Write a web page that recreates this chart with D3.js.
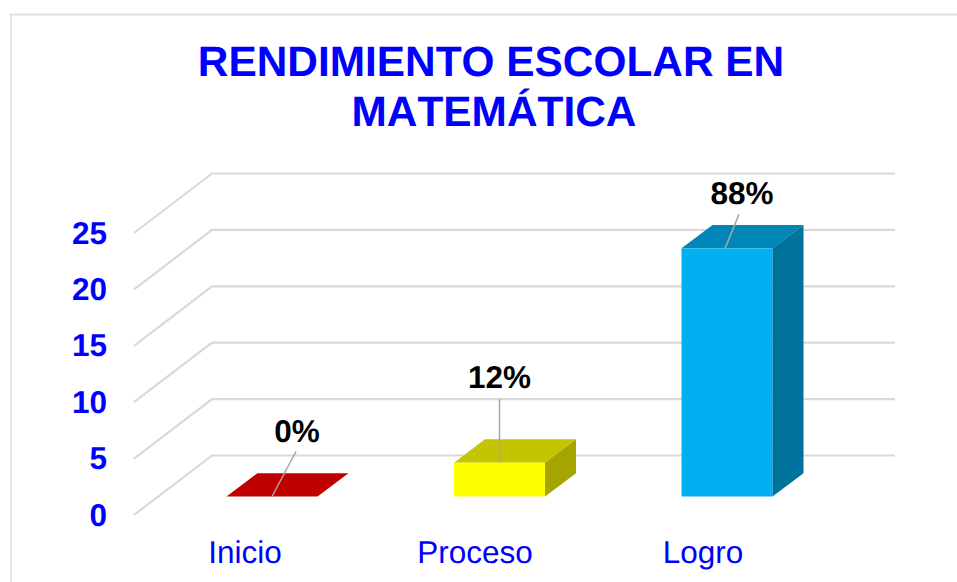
<!DOCTYPE html>
<html>
<head>
<meta charset="utf-8">
<script src="https://d3js.org/d3.v7.min.js"></script>
<style>
  html, body { margin: 0; padding: 0; background: #fff; }
  svg { display: block; }
  text { font-family: "Liberation Sans", Arial, sans-serif; text-rendering: geometricPrecision; font-kerning: none; }
</style>
</head>
<body>
<div id="chart"></div>
<script>
var categories = ["Inicio", "Proceso", "Logro"];
var values = [0, 3, 22];
var percentLabels = ["0%", "12%", "88%"];
var frontColors = ["#c00000", "#ffff00", "#00b0f0"];
var topColors = ["#c00000", "#c4c400", "#0086b6"];
var sideColors = ["#c00000", "#a5a500", "#00739d"];
var yTicks = [0, 5, 10, 15, 20, 25];
var titleLines = ["RENDIMIENTO ESCOLAR EN", "MATEMÁTICA"];

var width = 957;
var height = 582;

var svg = d3.select("#chart")
  .append("svg")
  .attr("width", width)
  .attr("height", height);

// outer frame, only top and left are inside the crop
svg.append("path")
  .attr("d", "M11,582V14.5H957")
  .attr("fill", "none")
  .attr("stroke", "#e2e2e2")
  .attr("stroke-width", 2);

svg.selectAll(".title")
  .data(titleLines)
  .enter().append("text")
  .attr("class", "title")
  .attr("x", function(d, i) { return i === 0 ? 491 : 494; })
  .attr("y", function(d, i) { return 76 + i * 49.5; })
  .attr("text-anchor", "middle")
  .attr("font-size", 42.4)
  .attr("font-weight", "bold")
  .attr("fill", "#0000ff")
  .text(function(d) { return d; });

// y scale lives on the front edge of the 3d floor
var y = d3.scaleLinear().domain([0, 25]).range([515, 233]);

// how far the back wall is pushed from the front edge
var wallDx = 78, wallDy = -59.5;
var wallLeft = 134, gridRight = 895;

var grid = svg.append("g");
yTicks.forEach(function(t) {
  grid.append("path")
    .attr("d", "M" + wallLeft + "," + y(t) +
      "L" + (wallLeft + wallDx) + "," + (y(t) + wallDy) +
      "H" + gridRight)
    .attr("fill", "none")
    .attr("stroke", "#d9d9d9")
    .attr("stroke-width", 2.2);
});

var yAxis = d3.axisLeft(y)
  .tickValues(yTicks)
  .tickSize(0)
  .tickPadding(0);

var yG = svg.append("g")
  .attr("transform", "translate(107,0)")
  .call(yAxis);
yG.select(".domain").remove();
yG.selectAll("text")
  .attr("font-size", 31.5)
  .attr("font-weight", "bold")
  .attr("font-family", "Liberation Sans, Arial, sans-serif")
  .attr("fill", "#0000ff");

// bars sit a bit further back than the front edge
var x = d3.scaleBand()
  .domain(categories)
  .range([158.25, 840.75])
  .paddingInner(0.6)
  .paddingOuter(0.3);

var barShiftY = -18.5;
var depthX = 31, depthY = -23.3;

var bars = svg.selectAll(".bar")
  .data(categories)
  .enter().append("g")
  .attr("class", "bar");

bars.each(function(c, i) {
  var g = d3.select(this);
  var x0 = x(c);
  var x1 = x0 + x.bandwidth();
  var yb = y(0) + barShiftY;
  var yt = y(values[i]) + barShiftY;

  // top
  g.append("polygon")
    .attr("points", [[x0, yt], [x1, yt], [x1 + depthX, yt + depthY], [x0 + depthX, yt + depthY]].join(" "))
    .attr("fill", topColors[i]);

  if (values[i] > 0) {
    g.append("rect")
      .attr("x", x0)
      .attr("y", yt)
      .attr("width", x.bandwidth())
      .attr("height", yb - yt)
      .attr("fill", frontColors[i]);
    g.append("polygon")
      .attr("points", [[x1, yt], [x1 + depthX, yt + depthY], [x1 + depthX, yb + depthY], [x1, yb]].join(" "))
      .attr("fill", sideColors[i]);
  }
});

// data labels with their leader lines, offsets relative to the bar top
var labelOffsets = [
  { lx: 24, ly: -45, tx: 25, ty: -55 },
  { lx: 0, ly: -64, tx: 0, ty: -75 },
  { lx: 14, ly: -34, tx: 17, ty: -44 }
];
var leaderBase = [0, 0, -2];

categories.forEach(function(c, i) {
  var cx = x(c) + x.bandwidth() / 2 + leaderBase[i];
  var yt = y(values[i]) + barShiftY;
  var o = labelOffsets[i];
  svg.append("line")
    .attr("x1", cx)
    .attr("y1", yt)
    .attr("x2", cx + o.lx)
    .attr("y2", yt + o.ly)
    .attr("stroke", "#a6a6a6")
    .attr("stroke-width", 1.5);
  svg.append("text")
    .attr("x", cx + o.tx)
    .attr("y", yt + o.ty)
    .attr("text-anchor", "middle")
    .attr("font-size", 31.5)
    .attr("font-weight", "bold")
    .attr("fill", "#000")
    .text(percentLabels[i]);
});

// category names are centred a little left of the bars
var xLabel = d3.scalePoint()
  .domain(categories)
  .range([245, 703]);

svg.selectAll(".cat")
  .data(categories)
  .enter().append("text")
  .attr("class", "cat")
  .attr("x", function(d, i) { return xLabel(d) + (i === 1 ? 1 : 0); })
  .attr("y", 563)
  .attr("text-anchor", "middle")
  .attr("font-size", 31.5)
  .attr("fill", "#0000ff")
  .text(function(d) { return d; });
</script>
</body>
</html>
